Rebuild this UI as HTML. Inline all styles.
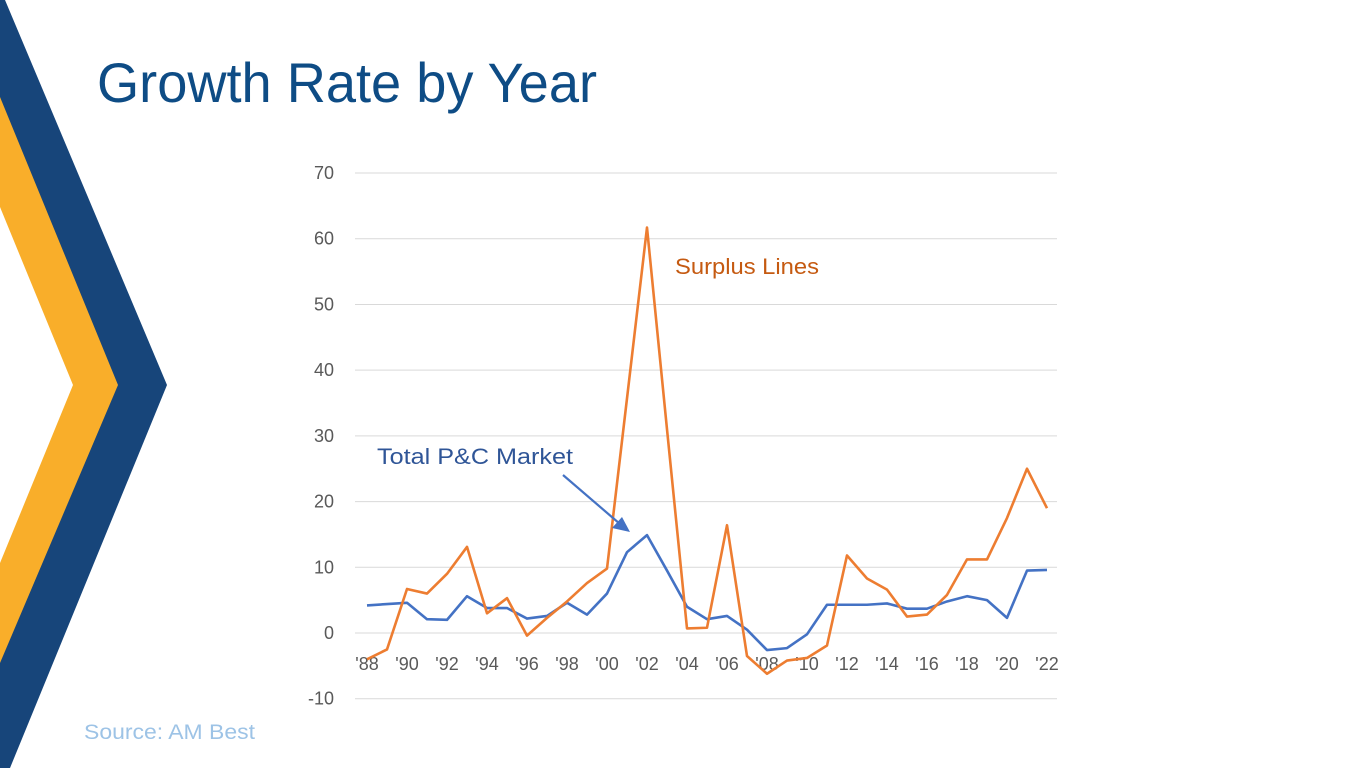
<!DOCTYPE html>
<html><head><meta charset="utf-8"><style>
body{margin:0;width:1365px;height:768px;overflow:hidden;background:#fff;font-family:"Liberation Sans",sans-serif}
svg{position:absolute;left:0;top:0}
</style></head><body>
<svg width="1365" height="768">
<polygon points="0,0 5,0 167,385 10,768 0,768" fill="#17457A"/>
<polygon points="0,97 118,385 0,663" fill="#F9AE2A"/>
<polygon points="0,207 73,385 0,563" fill="#fff"/>
<text x="97" y="102" font-size="56" fill="#0E4C85" textLength="500" lengthAdjust="spacingAndGlyphs">Growth Rate by Year</text>
<text x="84" y="739" font-size="21" fill="#9DC3E6" textLength="171" lengthAdjust="spacingAndGlyphs">Source: AM Best</text>
<g id="chart"></g>
</svg>
<script>
const years=["'88","'89","'90","'91","'92","'93","'94","'95","'96","'97","'98","'99","'00","'01","'02","'03","'04","'05","'06","'07","'08","'09","'10","'11","'12","'13","'14","'15","'16","'17","'18","'19","'20","'21","'22"];
const pcMarket=[4.2,4.4,4.6,2.1,2.0,5.6,3.8,3.8,2.2,2.6,4.6,2.8,6.0,12.3,14.9,9.5,4.0,2.1,2.6,0.5,-2.6,-2.3,-0.2,4.3,4.3,4.3,4.5,3.7,3.7,4.8,5.6,5.0,2.3,9.5,9.6];
const surplusLines=[-4.0,-2.5,6.7,6.0,9.0,13.1,3.0,5.3,-0.4,2.3,4.8,7.6,9.8,35.7,61.7,31.0,0.7,0.8,16.4,-3.5,-6.2,-4.2,-3.8,-1.9,11.8,8.3,6.6,2.5,2.8,5.8,11.2,11.2,17.5,25.0,19.0];
const yTicks=[-10,0,10,20,30,40,50,60,70];
const NS="http://www.w3.org/2000/svg";
const g=document.getElementById('chart');
const X=i=>367+i*20;
const Y=v=>633-v*6.571;
function el(t,a){const e=document.createElementNS(NS,t);for(const k in a)e.setAttribute(k,a[k]);g.appendChild(e);return e;}
yTicks.forEach(v=>{
 const l=el('line',{x1:355,x2:1057,y1:Y(v),y2:Y(v),stroke:'#d9d9d9','stroke-width':1});
 
 
 const t=el('text',{x:334,y:Y(v)+6,'text-anchor':'end','font-size':18,fill:'#595959'});
 t.textContent=v;
 
 
});
years.forEach((y,i)=>{
 if(i%2)return;
 const t=el('text',{x:X(i),y:670,'text-anchor':'middle','font-size':18,fill:'#595959'});
 t.textContent=y;
 
 
});
function line(arr,c,name){
 const p=el('polyline',{points:arr.map((v,i)=>X(i)+','+Y(v)).join(' '),fill:'none',stroke:c,'stroke-width':2.6,'stroke-linejoin':'round'});
 
 
}
line(pcMarket,'#4472C4','pc-market-line');
line(surplusLines,'#ED7D31','surplus-lines-line');
let t=el('text',{x:675,y:274,'font-size':22,fill:'#C55A11',textLength:144,lengthAdjust:'spacingAndGlyphs'});t.textContent='Surplus Lines';


t=el('text',{x:377,y:464,'font-size':22,fill:'#2F5597',textLength:196,lengthAdjust:'spacingAndGlyphs'});t.textContent='Total P&C Market';


let a=el('line',{x1:563,y1:475,x2:620,y2:524,stroke:'#4472C4','stroke-width':2.2});


a=el('polygon',{points:'630,532 612,528 622,517',fill:'#4472C4'});


</script>
</body></html>
